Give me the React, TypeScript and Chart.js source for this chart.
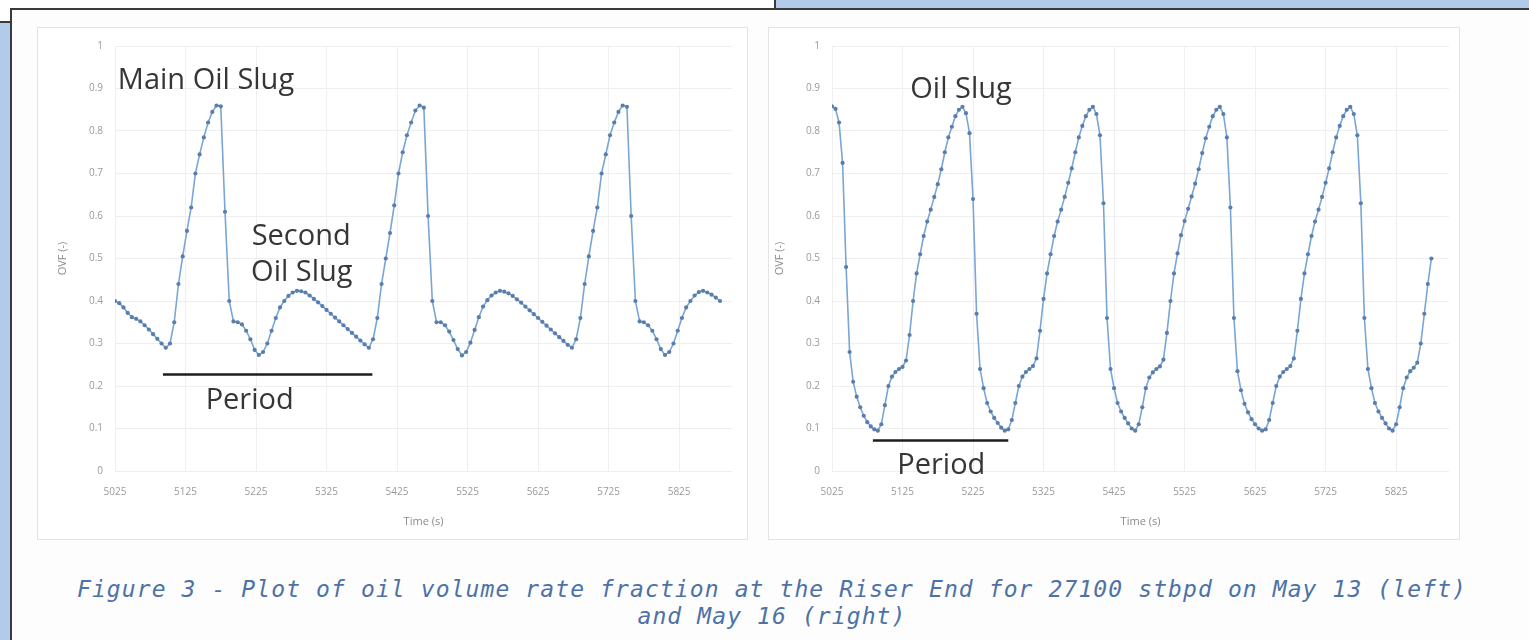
import React, { useEffect, useRef } from 'react';
import { Chart, registerables } from 'chart.js';

Chart.register(...registerables);
Chart.defaults.font.family = '"Open Sans", "DejaVu Sans", sans-serif';

// ---- axes ----
const TIME_TICKS = [5025, 5125, 5225, 5325, 5425, 5525, 5625, 5725, 5825];
const OVF_TICKS = [0, 0.1, 0.2, 0.3, 0.4, 0.5, 0.6, 0.7, 0.8, 0.9, 1];
const TIME_MIN = 5025;
const TIME_MAX = 5900;

// ---- May 13 (left), sampled every 6 s from 5025 s ----
const MAY13_START = 5025;
const MAY13_STEP = 6;
const MAY13_OVF = [
  0.40, 0.395, 0.385, 0.372, 0.362, 0.358, 0.352, 0.343, 0.333, 0.322, 0.311, 0.300,
  0.29, 0.30, 0.35, 0.44, 0.505, 0.565, 0.62, 0.70, 0.745, 0.785, 0.82, 0.845, 0.86, 0.858,
  0.61, 0.40, 0.352, 0.35, 0.345, 0.33, 0.31, 0.285, 0.273, 0.28, 0.30, 0.33, 0.36, 0.385,
  0.40, 0.412, 0.42, 0.424, 0.423, 0.42, 0.413, 0.405, 0.397, 0.388, 0.379, 0.37, 0.361,
  0.352, 0.343, 0.334, 0.325, 0.316, 0.307, 0.298,
  0.29, 0.31, 0.36, 0.44, 0.50, 0.56, 0.625, 0.70, 0.75, 0.79, 0.82, 0.848, 0.86, 0.855,
  0.60, 0.40, 0.35, 0.35, 0.343, 0.328, 0.308, 0.287, 0.272, 0.28, 0.302, 0.332, 0.362,
  0.387, 0.402, 0.413, 0.42, 0.424, 0.422, 0.418, 0.412, 0.404, 0.396, 0.387, 0.378, 0.369,
  0.36, 0.351, 0.342, 0.333, 0.324, 0.315, 0.306, 0.297,
  0.29, 0.31, 0.36, 0.44, 0.505, 0.565, 0.62, 0.70, 0.745, 0.79, 0.82, 0.845, 0.86, 0.857,
  0.60, 0.40, 0.352, 0.35, 0.343, 0.33, 0.31, 0.287, 0.273, 0.28, 0.30, 0.33, 0.36, 0.385,
  0.40, 0.413, 0.421, 0.424, 0.42, 0.415, 0.408, 0.40,
];

// ---- May 16 (right), sampled every 5 s from 5025 s ----
const MAY16_START = 5025;
const MAY16_STEP = 5;
const MAY16_OVF = [
  0.858, 0.852, 0.82, 0.725, 0.48, 0.28, 0.21, 0.175, 0.15, 0.13, 0.115, 0.105, 0.098,
  0.095, 0.11, 0.155, 0.2, 0.222, 0.233, 0.24, 0.245, 0.26, 0.32, 0.40, 0.465, 0.51, 0.553,
  0.587, 0.615, 0.645, 0.675, 0.71, 0.75, 0.785, 0.81, 0.835, 0.85, 0.857, 0.842, 0.795,
  0.64, 0.37, 0.24, 0.195, 0.16, 0.14, 0.125, 0.113, 0.102,
  0.095, 0.098, 0.12, 0.16, 0.2, 0.222, 0.233, 0.24, 0.247, 0.265, 0.33, 0.405, 0.465,
  0.51, 0.553, 0.587, 0.615, 0.645, 0.678, 0.712, 0.75, 0.785, 0.812, 0.835, 0.85, 0.857,
  0.84, 0.79, 0.63, 0.36, 0.24, 0.195, 0.16, 0.14, 0.125, 0.112, 0.10,
  0.095, 0.11, 0.15, 0.195, 0.22, 0.232, 0.24, 0.246, 0.262, 0.325, 0.40, 0.465, 0.512,
  0.555, 0.588, 0.617, 0.646, 0.676, 0.71, 0.748, 0.783, 0.81, 0.835, 0.85, 0.857, 0.84,
  0.785, 0.62, 0.36, 0.235, 0.19, 0.158, 0.138, 0.122, 0.11, 0.10,
  0.095, 0.098, 0.12, 0.16, 0.2, 0.222, 0.233, 0.24, 0.247, 0.265, 0.33, 0.405, 0.465,
  0.51, 0.553, 0.587, 0.615, 0.645, 0.678, 0.712, 0.75, 0.785, 0.812, 0.835, 0.85, 0.857,
  0.84, 0.79, 0.63, 0.36, 0.24, 0.195, 0.16, 0.14, 0.125, 0.112, 0.10,
  0.095, 0.11, 0.15, 0.195, 0.22, 0.235, 0.243, 0.255, 0.30, 0.37, 0.44, 0.50,
];

// ---- annotations (in data coordinates) ----
const MAY13_NOTES = [
  { text: 'Main Oil Slug', t: 5029, v: 0.919, align: 'left' },
  { text: 'Second', t: 5289, v: 0.552, align: 'center' },
  { text: 'Oil Slug', t: 5290, v: 0.466, align: 'center' },
  { text: 'Period', t: 5216, v: 0.165, align: 'center' },
];
const MAY13_PERIOD = { from: 5093, to: 5390, v: 0.227 };

const MAY16_NOTES = [
  { text: 'Oil Slug', t: 5208, v: 0.896, align: 'center' },
  { text: 'Period', t: 5180, v: 0.012, align: 'center' },
];
const MAY16_PERIOD = { from: 5083, to: 5275, v: 0.072 };

const CAPTION_1 = 'Figure 3 - Plot of oil volume rate fraction at the Riser End for 27100 stbpd on May 13 (left)';
const CAPTION_2 = 'and May 16 (right)';

const notesPlugin = {
  id: 'notes',
  afterDatasetsDraw(chart: any, _args: any, opts: any) {
    const { ctx } = chart;
    const xs = chart.scales.x;
    const ys = chart.scales.y;
    ctx.save();
    ctx.fillStyle = '#363636';
    ctx.font = '29px "Open Sans"';
    ctx.textBaseline = 'middle';
    (opts.labels || []).forEach((n: any) => {
      ctx.textAlign = n.align;
      ctx.fillText(n.text, xs.getPixelForValue(n.t), ys.getPixelForValue(n.v));
    });
    const p = opts.period;
    if (p) {
      ctx.strokeStyle = '#1e1e1e';
      ctx.lineWidth = 2.5;
      ctx.beginPath();
      ctx.moveTo(xs.getPixelForValue(p.from), ys.getPixelForValue(p.v));
      ctx.lineTo(xs.getPixelForValue(p.to), ys.getPixelForValue(p.v));
      ctx.stroke();
    }
    ctx.restore();
  },
};

type PanelProps = {
  values: number[];
  start: number;
  step: number;
  notes: any[];
  period: any;
  box: { left: number; top: number; width: number; height: number };
  yWidth: number;
  padTop: number;
  padRight: number;
  yTitlePad: number;
};

function OvfChart(props: PanelProps) {
  const ref = useRef<HTMLCanvasElement | null>(null);
  useEffect(() => {
    if (!ref.current) return;
    const points = props.values.map((v, i) => ({ x: props.start + i * props.step, y: v }));
    const chart = new Chart(ref.current, {
      type: 'line',
      data: {
        datasets: [
          {
            data: points,
            borderColor: '#78a6d6',
            borderWidth: 1.6,
            pointRadius: 2.1,
            pointBackgroundColor: '#5a7eab',
            pointBorderWidth: 0,
            tension: 0,
          },
        ],
      },
      plugins: [notesPlugin],
      options: {
        animation: false,
        responsive: true,
        maintainAspectRatio: false,
        layout: { padding: { top: props.padTop, right: props.padRight, left: 0, bottom: 0 } },
        plugins: {
          legend: { display: false },
          tooltip: { enabled: false },
          notes: { labels: props.notes, period: props.period },
        } as any,
        scales: {
          x: {
            type: 'linear',
            min: TIME_MIN,
            max: TIME_MAX,
            afterBuildTicks: (s: any) => {
              s.ticks = TIME_TICKS.map((value) => ({ value }));
            },
            afterFit: (s: any) => {
              s.height = 68;
            },
            grid: { color: '#efefef', drawTicks: false },
            border: { display: false },
            ticks: {
              padding: 15,
              color: '#9a9a9a',
              font: { size: 10 },
              maxRotation: 0,
              autoSkip: false,
              callback: (v: any) => String(v),
            },
            title: {
              display: true,
              text: 'Time (s)',
              color: '#8a8a8a',
              font: { size: 11 },
              padding: { top: 0, bottom: 11 },
            },
          },
          y: {
            min: 0,
            max: 1,
            afterBuildTicks: (s: any) => {
              s.ticks = OVF_TICKS.map((value) => ({ value }));
            },
            afterFit: (s: any) => {
              s.width = props.yWidth;
            },
            grid: { color: '#efefef', drawTicks: false },
            border: { display: false },
            ticks: {
              padding: 12,
              color: '#9a9a9a',
              font: { size: 10 },
              callback: (v: any) => (v === 0 ? '0' : v === 1 ? '1' : Number(v).toFixed(1)),
            },
            title: {
              display: true,
              text: 'OVF (-)',
              color: '#8a8a8a',
              font: { size: 11 },
              padding: { top: props.yTitlePad, bottom: 0 },
            },
          },
        },
      },
    });
    return () => chart.destroy();
  }, []);
  const b = props.box;
  return (
    <div
      style={{
        position: 'absolute',
        left: b.left,
        top: b.top,
        width: b.width,
        height: b.height,
        boxSizing: 'border-box',
        border: '1px solid #e4e4e4',
        background: '#ffffff',
      }}
    >
      <div style={{ position: 'relative', width: '100%', height: '100%' }}>
        <canvas ref={ref} />
      </div>
    </div>
  );
}

export default function App() {
  return (
    <div
      style={{
        position: 'absolute',
        left: 0,
        top: 0,
        width: 1529,
        height: 640,
        overflow: 'hidden',
        background: '#b3cbea',
      }}
    >
      <div
        style={{
          position: 'absolute',
          left: -2,
          top: -2,
          width: 778,
          height: 25,
          background: '#ffffff',
          border: '2px solid #3a3a3a',
          boxSizing: 'border-box',
        }}
      />
      <div
        style={{
          position: 'absolute',
          left: 10,
          top: 8,
          width: 1540,
          height: 660,
          background: '#fdfdfd',
          borderLeft: '2px solid #3a3a3a',
          borderTop: '2px solid #3a3a3a',
        }}
      />
      <OvfChart
        values={MAY13_OVF}
        start={MAY13_START}
        step={MAY13_STEP}
        notes={MAY13_NOTES}
        period={MAY13_PERIOD}
        box={{ left: 37, top: 27, width: 711, height: 513 }}
        yWidth={77}
        padTop={12}
        padRight={15}
        yTitlePad={18}
      />
      <OvfChart
        values={MAY16_OVF}
        start={MAY16_START}
        step={MAY16_STEP}
        notes={MAY16_NOTES}
        period={MAY16_PERIOD}
        box={{ left: 768, top: 27, width: 692, height: 513 }}
        yWidth={63}
        padTop={12}
        padRight={10}
        yTitlePad={4}
      />
      <div
        style={{
          position: 'absolute',
          left: 72,
          top: 576,
          width: 1400,
          textAlign: 'center',
          fontFamily: '"DejaVu Sans Mono", monospace',
          fontStyle: 'italic',
          fontSize: 23,
          letterSpacing: '1.1px',
          lineHeight: '27px',
          color: '#4d72a6',
          whiteSpace: 'pre',
        }}
      >
        <div>{CAPTION_1}</div>
        <div>{CAPTION_2}</div>
      </div>
    </div>
  );
}
